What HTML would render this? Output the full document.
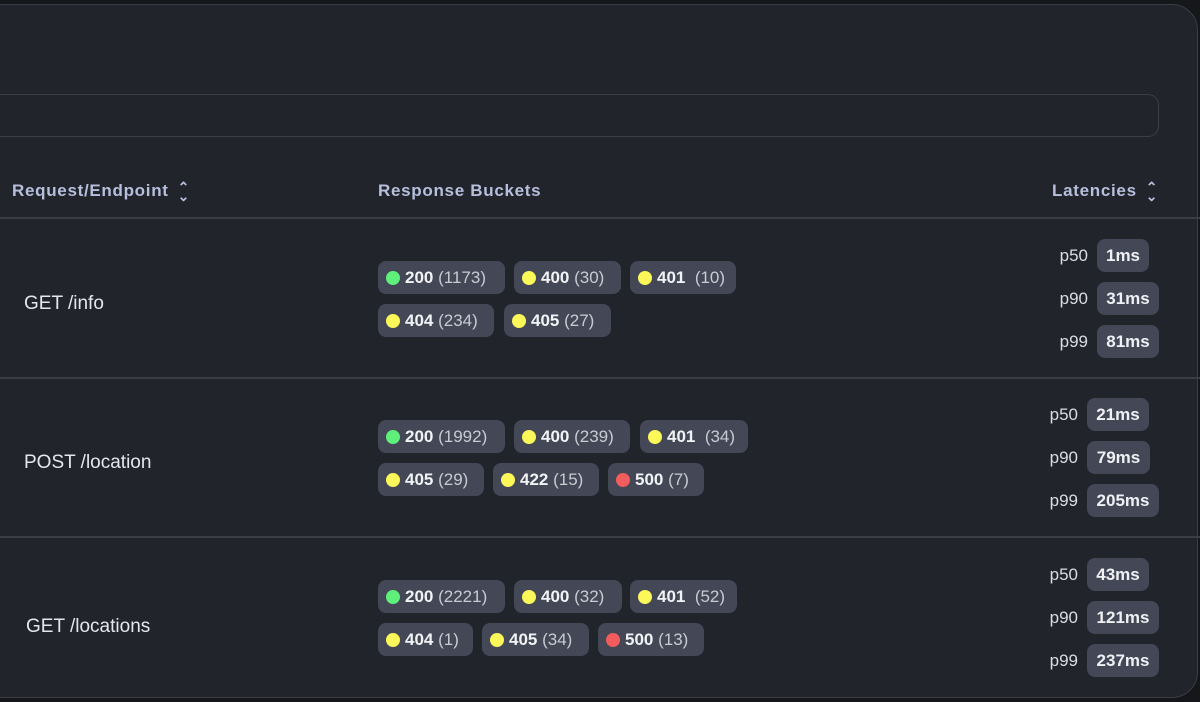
<!DOCTYPE html>
<html><head><meta charset="utf-8"><style>
*{margin:0;padding:0;box-sizing:border-box}
body{width:1200px;height:702px;background:#16171b;position:relative;overflow:hidden;font-family:"Liberation Sans",sans-serif}
.card{position:absolute;left:-30px;top:4px;width:1228px;height:694px;background:#22242c;border:1px solid #3a3d46;border-radius:26px}
.search{position:absolute;left:-20px;top:94px;width:1179px;height:43px;border:1px solid #3c3f49;border-radius:11px}
.hl{position:absolute;left:0;width:1200px;height:2px;background:#3a3d45}
.th{position:absolute;top:181px;font-size:17px;font-weight:bold;color:#b7bfdc;letter-spacing:.7px}
.sort{display:inline-block;font-size:14px;line-height:9px;vertical-align:middle;color:#b7bfdc;margin-left:9px;text-align:center;font-weight:bold}
.ep{position:absolute;font-size:19px;color:#e6e7ea}
.pill{position:absolute;height:33px;background:#434756;border-radius:8px;font-size:17px;line-height:33px;color:#c9cbd2;white-space:nowrap}
.pill .d{position:absolute;left:8px;top:9.5px;width:14px;height:14px;border-radius:50%}
.pill .t{position:absolute;left:27px}
.pill b{color:#f2f3f5}
.g{background:#5ef07a}.y{background:#fcf85a}.r{background:#f25c5c}
.lat{position:absolute;height:33px;background:#434756;border-radius:8px;font-size:17px;font-weight:bold;line-height:33px;color:#f0f1f4;text-align:center}
.pl{position:absolute;font-size:17px;color:#dcdde2;width:40px;text-align:right}
</style></head><body>
<div class="card"></div>
<div class="search"></div>
<div class="th" style="left:12px">Request/Endpoint<span class="sort">⌃<br>⌄</span></div>
<div class="th" style="left:378px">Response Buckets</div>
<div class="th" style="left:1052px">Latencies<span class="sort">⌃<br>⌄</span></div>
<div class="hl" style="top:217px"></div>
<div class="hl" style="top:377px"></div>
<div class="hl" style="top:536px"></div>

<div class="ep" style="left:24px;top:293px">GET /info</div>
<div class="ep" style="left:24px;top:452px">POST /location</div>
<div class="ep" style="left:26px;top:616px">GET /locations</div>

<div class="pill" style="left:378px;top:261px;width:127px"><i class="d g"></i><span class="t"><b>200</b> (1173)</span></div>
<div class="pill" style="left:514px;top:261px;width:107px"><i class="d y"></i><span class="t"><b>400</b> (30)</span></div>
<div class="pill" style="left:630px;top:261px;width:106px"><i class="d y"></i><span class="t"><b>401</b> &nbsp;(10)</span></div>
<div class="pill" style="left:378px;top:304px;width:116px"><i class="d y"></i><span class="t"><b>404</b> (234)</span></div>
<div class="pill" style="left:504px;top:304px;width:107px"><i class="d y"></i><span class="t"><b>405</b> (27)</span></div>

<div class="pill" style="left:378px;top:420px;width:127px"><i class="d g"></i><span class="t"><b>200</b> (1992)</span></div>
<div class="pill" style="left:514px;top:420px;width:116px"><i class="d y"></i><span class="t"><b>400</b> (239)</span></div>
<div class="pill" style="left:640px;top:420px;width:108px"><i class="d y"></i><span class="t"><b>401</b> &nbsp;(34)</span></div>
<div class="pill" style="left:378px;top:463px;width:106px"><i class="d y"></i><span class="t"><b>405</b> (29)</span></div>
<div class="pill" style="left:493px;top:463px;width:106px"><i class="d y"></i><span class="t"><b>422</b> (15)</span></div>
<div class="pill" style="left:608px;top:463px;width:96px"><i class="d r"></i><span class="t"><b>500</b> (7)</span></div>

<div class="pill" style="left:378px;top:580px;width:127px"><i class="d g"></i><span class="t"><b>200</b> (2221)</span></div>
<div class="pill" style="left:514px;top:580px;width:108px"><i class="d y"></i><span class="t"><b>400</b> (32)</span></div>
<div class="pill" style="left:630px;top:580px;width:107px"><i class="d y"></i><span class="t"><b>401</b> &nbsp;(52)</span></div>
<div class="pill" style="left:378px;top:623px;width:95px"><i class="d y"></i><span class="t"><b>404</b> (1)</span></div>
<div class="pill" style="left:482px;top:623px;width:107px"><i class="d y"></i><span class="t"><b>405</b> (34)</span></div>
<div class="pill" style="left:598px;top:623px;width:106px"><i class="d r"></i><span class="t"><b>500</b> (13)</span></div>

<div class="pl" style="left:1048px;top:246px">p50</div><div class="lat" style="left:1097px;top:239px;width:52px">1ms</div>
<div class="pl" style="left:1048px;top:289px">p90</div><div class="lat" style="left:1097px;top:282px;width:62px">31ms</div>
<div class="pl" style="left:1048px;top:332px">p99</div><div class="lat" style="left:1097px;top:325px;width:62px">81ms</div>

<div class="pl" style="left:1038px;top:405px">p50</div><div class="lat" style="left:1087px;top:398px;width:62px">21ms</div>
<div class="pl" style="left:1038px;top:448px">p90</div><div class="lat" style="left:1087px;top:441px;width:63px">79ms</div>
<div class="pl" style="left:1038px;top:491px">p99</div><div class="lat" style="left:1087px;top:484px;width:72px">205ms</div>

<div class="pl" style="left:1038px;top:565px">p50</div><div class="lat" style="left:1087px;top:558px;width:62px">43ms</div>
<div class="pl" style="left:1038px;top:608px">p90</div><div class="lat" style="left:1087px;top:601px;width:72px">121ms</div>
<div class="pl" style="left:1038px;top:651px">p99</div><div class="lat" style="left:1087px;top:644px;width:72px">237ms</div>
</body></html>
